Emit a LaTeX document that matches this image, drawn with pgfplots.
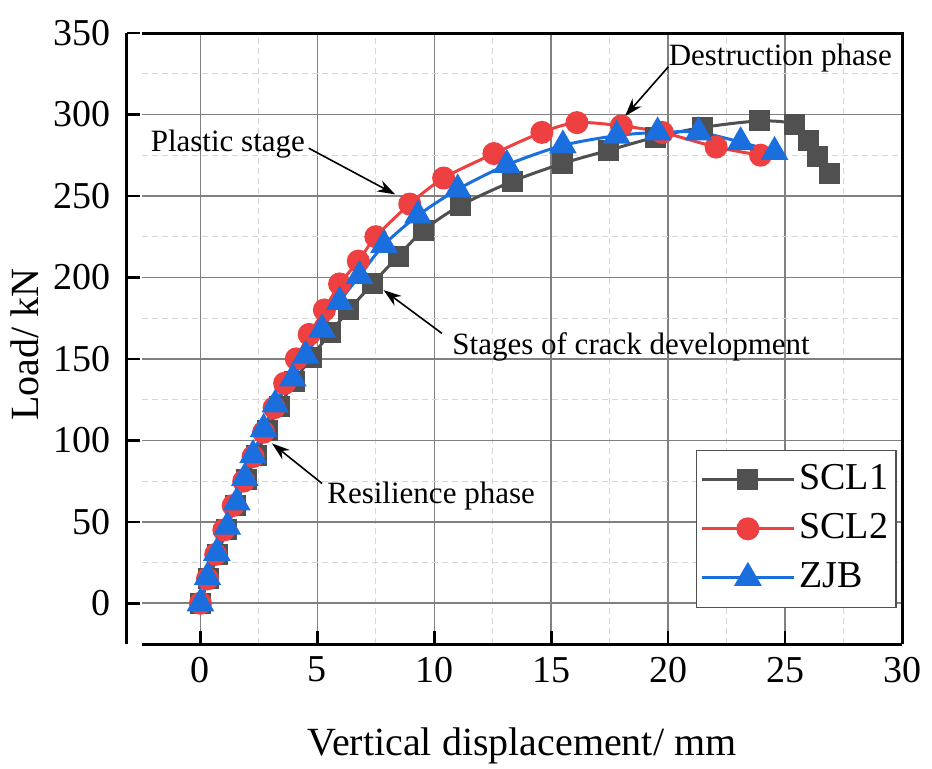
\documentclass[border=0pt]{standalone}
\usepackage{fontspec}
\setmainfont{Liberation Serif}
\usepackage{pgfplots}
\pgfplotsset{compat=1.18}
\usetikzlibrary{arrows.meta}

\definecolor{cgray}{RGB}{80,80,80}
\definecolor{cred}{RGB}{238,64,64}
\definecolor{cblue}{RGB}{27,110,222}
\definecolor{gridmaj}{RGB}{128,128,128}
\definecolor{gridmin}{RGB}{215,215,215}

\begin{document}
\begin{tikzpicture}
\begin{axis}[
    scale only axis,
    width=380pt, height=305.5pt,
    xmin=-2.5, xmax=30, ymin=-25, ymax=350,
    axis x line=bottom, axis y line=left,
    axis y line shift=7.5pt,
    axis line style={-, line width=1.5pt},
    xtick={0,5,...,30}, ytick={0,50,...,350},
    minor xtick={2.5,7.5,...,27.5}, minor ytick={25,75,...,325},
    grid=both,
    major grid style={gridmaj, line width=0.8pt},
    minor grid style={gridmin, line width=0.5pt, dash pattern=on 3pt off 2pt},
    tick align=inside, major tick length=6.5pt, minor tick length=0pt,
    major tick style={black, line width=1.3pt},
    xticklabels={0,5,10,15,20,25,30},
    yticklabels={0,50,100,150,200,250,300,350},
    tick label style={font=\fontsize{19}{23}\selectfont},
    xticklabel style={yshift=-3pt},
    yticklabel style={xshift=-4.5pt},
    xlabel={Vertical displacement/ mm},
    ylabel={Load/ kN},
    label style={font=\fontsize{20}{24}\selectfont},
    xlabel style={at={(axis description cs:0.5,-0.182)}, anchor=base},
    ylabel style={at={(axis description cs:-0.154,0.49)}, anchor=center},
    legend style={at={(0.993,0.318)}, anchor=north east, draw=cgray,
        line width=0.6pt, fill=white, font=\fontsize{19}{23}\selectfont,
        inner xsep=2pt, inner ysep=4pt, row sep=3pt,
        nodes={inner sep=2pt, text height=13.5pt, text depth=4pt}},
    legend cell align=left,
    legend image code/.code={
        \draw[mark repeat=2, mark phase=2, #1] plot coordinates {(0pt,0pt) (23pt,0pt) (46pt,0pt)};
    },
    clip=false,
]
\addplot[cgray, line width=1.5pt, smooth, mark=square*, mark size=4.5pt,
    mark options={solid}] coordinates {
(0,0) (0.35,15) (0.75,30) (1.1,45) (1.5,60) (1.95,76) (2.4,91) (2.85,106)
(3.4,121) (4.0,136) (4.75,151) (5.55,166) (6.35,180) (7.35,196) (8.45,213)
(9.55,229) (11.1,244) (13.35,259) (15.5,270) (17.45,278) (19.45,286)
(21.45,292) (23.9,296) (25.4,294) (26.0,284) (26.4,274) (26.9,264)
};
\addlegendentry{SCL1}
\addplot[cred, line width=1.5pt, smooth, mark=*, mark size=5pt,
    mark options={solid}] coordinates {
(0,0) (0.3,15) (0.65,30) (1.0,45) (1.4,60) (1.85,75) (2.25,90) (2.7,105)
(3.15,120) (3.6,135) (4.1,150) (4.65,165) (5.3,180) (5.95,196) (6.75,210)
(7.5,225) (8.95,245) (10.4,261) (12.55,276) (14.6,289) (16.1,295)
(18.0,293) (19.75,289) (22.05,280) (23.95,275)
};
\addlegendentry{SCL2}
\addplot[cblue, line width=1.5pt, smooth, mark=triangle*, mark size=6.5pt,
    mark options={solid}] coordinates {
(0,0) (0.3,16) (0.7,31) (1.15,47) (1.55,62) (1.9,77) (2.25,91) (2.7,107)
(3.2,122) (3.95,138) (4.5,152) (5.2,168) (5.95,185) (6.8,201) (7.85,220)
(9.3,238) (11.0,254) (13.1,269) (15.5,281) (17.8,287) (19.55,289)
(21.3,289) (23.1,283) (24.55,277)
};
\addlegendentry{ZJB}

\begin{scope}[font=\fontsize{15.5}{18}\selectfont]
\node[anchor=base west, inner sep=0pt] at (axis cs:-2.14,277.1) {Plastic stage};
\node[anchor=base west, inner sep=0pt] at (axis cs:10.76,152.9) {Stages of crack development};
\node[anchor=base west, inner sep=0pt] at (axis cs:5.41,61.2) {Resilience phase};
\node[anchor=base west, inner sep=0pt] at (axis cs:20.01,330.3) {Destruction phase};
\end{scope}
\begin{scope}[line width=0.8pt, -{Stealth[length=9pt,width=6pt]}]
\draw (axis cs:4.63,279.3) -- (axis cs:8.33,250.9);
\draw (axis cs:10.33,165.6) -- (axis cs:7.83,192.2);
\draw (axis cs:5.20,73.5) -- (axis cs:3.06,98.1);
\draw (axis cs:20.01,329.3) -- (axis cs:18.16,299.0);
\end{scope}
\end{axis}
\draw[line width=1.5pt, line join=miter] (current axis.north west) -- (current axis.north east) -- (current axis.south east);
\pgfresetboundingbox
\path[use as bounding box] ([xshift=-71pt,yshift=-62pt]current axis.south west) rectangle ([xshift=15pt,yshift=16.5pt]current axis.north east);
\end{tikzpicture}
\end{document}
